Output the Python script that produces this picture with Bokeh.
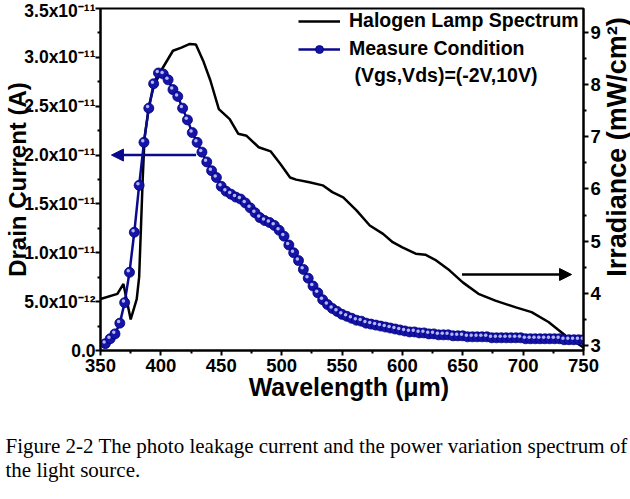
import math
from bokeh.plotting import figure
from bokeh.layouts import row, column
from bokeh.models import (Range1d, LinearAxis, Label, Legend, LegendItem, Arrow,
                          NormalHead, FixedTicker, CustomJSTickFormatter, ColumnDataSource)
from bokeh.embed import file_html
from bokeh.resources import INLINE

# ---- data -------------------------------------------------------------
# Photo leakage (drain) current, units of 1e-11 A, measured every 4 nm
current_wl = list(range(354, 751, 4))
current_e11 = [
    0.07, 0.12, 0.17, 0.28, 0.49, 0.80, 1.21, 1.69, 2.13, 2.48,   # 354-390
    2.73, 2.84, 2.83, 2.77, 2.67, 2.60, 2.48, 2.36, 2.23, 2.13,   # 394-430
    2.03, 1.93, 1.84, 1.77, 1.68, 1.63, 1.60, 1.57, 1.55, 1.51,   # 434-470
    1.46, 1.41, 1.36, 1.33, 1.31, 1.28, 1.23, 1.17, 1.08, 1.00,   # 474-510
    0.92, 0.83, 0.74, 0.66, 0.59, 0.52, 0.47, 0.43, 0.40, 0.37,   # 514-550
    0.35, 0.33, 0.31, 0.30, 0.28, 0.27, 0.26, 0.25, 0.24, 0.23,   # 554-590
    0.22, 0.21, 0.20, 0.19, 0.19, 0.18, 0.18, 0.17, 0.17, 0.16,   # 594-630
    0.16, 0.16, 0.15, 0.15, 0.15, 0.14, 0.14, 0.14, 0.14, 0.14,   # 634-670
    0.13, 0.13, 0.13, 0.13, 0.13, 0.13, 0.13, 0.12, 0.12, 0.12,   # 674-710
    0.12, 0.12, 0.12, 0.12, 0.12, 0.11, 0.11, 0.11, 0.11, 0.11,   # 714-750
]
current_a = [v * 1e-11 for v in current_e11]

# Halogen lamp irradiance, mW/cm^2
lamp_wl = [350, 364, 369, 375, 380, 382, 383.5, 385, 386.5, 390, 394, 401,
           410, 417, 424, 429, 435, 441, 448, 457, 464, 471, 481, 491, 499,
           507, 512, 523, 534, 542, 551, 562, 573, 584, 592, 600, 611, 619,
           628, 639, 650, 663, 677, 694, 707, 721, 735, 750]
lamp_irr = [3.89, 3.99, 4.18, 3.50, 3.89, 4.31, 5.26, 6.22, 6.99, 7.57, 7.96, 8.30,
            8.65, 8.71, 8.78, 8.77, 8.46, 8.08, 7.53, 7.34, 7.06, 7.02, 6.80, 6.72, 6.48,
            6.22, 6.18, 6.13, 6.07, 5.94, 5.84, 5.59, 5.30, 5.14, 4.98, 4.88, 4.76, 4.74,
            4.63, 4.44, 4.21, 3.99, 3.86, 3.73, 3.64, 3.45, 3.19, 2.96]

x_ticks = [350, 400, 450, 500, 550, 600, 650, 700, 750]
left_ticks = [0.0, 0.5e-11, 1.0e-11, 1.5e-11, 2.0e-11, 2.5e-11, 3.0e-11, 3.5e-11]
left_tick_labels = ["0.0", "5.0x10\u207b\u00b9\u00b2", "1.0x10\u207b\u00b9\u00b9",
                    "1.5x10\u207b\u00b9\u00b9", "2.0x10\u207b\u00b9\u00b9",
                    "2.5x10\u207b\u00b9\u00b9", "3.0x10\u207b\u00b9\u00b9",
                    "3.5x10\u207b\u00b9\u00b9"]
right_ticks = [3, 4, 5, 6, 7, 8, 9]

caption_lines = ["Figure 2-2 The photo leakage current and the power variation spectrum of",
                 "the light source."]

# ---- layout -----------------------------------------------------------
W, H = 630, 499
PLOT_W, PLOT_H = 603, 410          # chart canvas; right title strip and caption follow
LEFT, RIGHT, TOP, BOTTOM = 100, 18, 8, 60
X0, X1 = 350, 750
Y0, Y1 = 0.0, 3.5e-11
R0, R1 = 2.904, 9.46
FW, FH = PLOT_W - LEFT - RIGHT, PLOT_H - TOP - BOTTOM

def xd(px):
    """data x for a canvas column"""
    return X0 + (px - LEFT) / FW * (X1 - X0)

def yd(py):
    """data y (left axis) for a canvas row"""
    return Y1 - (py - TOP) / FH * (Y1 - Y0)

def rd(py):
    """data y (right axis) for a canvas row"""
    return R1 - (py - TOP) / FH * (R1 - R0)

FONT = "Liberation Sans"
BLUE = "#1414a8"
DARK_BLUE = "#0a0a8c"

p = figure(width=PLOT_W, height=PLOT_H, x_range=Range1d(X0, X1), y_range=Range1d(Y0, Y1),
           output_backend="svg", toolbar_location=None,
           min_border_left=LEFT, min_border_right=RIGHT,
           min_border_top=TOP, min_border_bottom=BOTTOM)
p.extra_y_ranges = {"irr": Range1d(R0, R1)}
p.grid.visible = False
p.outline_line_color = "black"
p.outline_line_width = 2
p.outline_line_alpha = 1
p.background_fill_color = "white"
p.border_fill_color = "white"

def style_axis(ax, label_size="18.5px"):
    ax.axis_line_width = 2
    ax.axis_line_color = "black"
    ax.major_tick_line_width = 2
    ax.major_tick_in = 0
    ax.major_tick_out = 5
    ax.minor_tick_line_width = 2
    ax.minor_tick_in = 0
    ax.minor_tick_out = 3
    ax.major_label_text_font = FONT
    ax.major_label_text_font_style = "bold"
    ax.major_label_text_font_size = label_size
    ax.major_label_text_color = "black"
    ax.major_label_standoff = 3
    ax.axis_label_text_font = FONT
    ax.axis_label_text_font_style = "bold"
    ax.axis_label_text_color = "black"

# bottom axis
xa = p.xaxis[0]
style_axis(xa)
xa.ticker = FixedTicker(ticks=x_ticks, minor_ticks=[t + 25 for t in x_ticks[:-1]])
xa.axis_label = "\u00a0\u00a0Wavelength (\u03bcm)"
xa.axis_label_text_font_size = "25px"
xa.axis_label_standoff = -2

# left axis
ya = p.yaxis[0]
style_axis(ya, "17.5px")
ya.ticker = FixedTicker(ticks=left_ticks,
                        minor_ticks=[t + 0.25e-11 for t in left_ticks[:-1]])
ya.formatter = CustomJSTickFormatter(
    args=dict(tvals=left_ticks, tlabels=left_tick_labels),
    code="""
const i = tvals.findIndex((t) => Math.abs(t - tick) < 1e-16);
return i >= 0 ? tlabels[i] : '';
""")
ya.major_label_standoff = 0
ya.axis_label = "Drain Current (A)"
ya.axis_label_text_font_size = "24px"
ya.axis_label_standoff = -10

# right axis (its title sits in the strip to the right)
ra = LinearAxis(y_range_name="irr")
style_axis(ra)
ra.ticker = FixedTicker(ticks=right_ticks, minor_ticks=[t + 0.5 for t in right_ticks[:-1]])
ra.major_label_standoff = 2
p.add_layout(ra, "right")

# ---- series -----------------------------------------------------------
lamp_src = ColumnDataSource(dict(x=lamp_wl, y=lamp_irr))
lamp_line = p.line("x", "y", source=lamp_src, y_range_name="irr",
                   line_color="black", line_width=2.5)

cur_src = ColumnDataSource(dict(
    x=current_wl, y=current_a,
    hx=[w - 1.0 for w in current_wl],
    hy=[v + 0.016e-11 for v in current_a]))
cur_line = p.line("x", "y", source=cur_src, line_color=DARK_BLUE, line_width=2.5)
cur_pts = p.scatter("x", "y", source=cur_src, size=10, marker="circle",
                    fill_color=BLUE, line_color="#000078", line_width=0.8)
# sphere highlight
p.scatter("hx", "hy", source=cur_src, size=3.5, marker="circle",
          fill_color="#c8c8ff", line_color=None, fill_alpha=0.9)

# ---- arrows -----------------------------------------------------------
p.add_layout(Arrow(end=NormalHead(size=12, fill_color=DARK_BLUE, line_color=DARK_BLUE),
                   x_start=xd(196), y_start=2.0e-11, x_end=xd(111), y_end=2.0e-11,
                   line_color=DARK_BLUE, line_width=2.5))
p.add_layout(Arrow(end=NormalHead(size=12, fill_color="black", line_color="black"),
                   x_start=xd(463), y_start=rd(274), x_end=xd(573), y_end=rd(274),
                   y_range_name="irr", line_color="black", line_width=2.5))

# ---- legend -----------------------------------------------------------
legend = Legend(items=[LegendItem(label="Halogen Lamp Spectrum", renderers=[lamp_line]),
                       LegendItem(label="Measure Condition", renderers=[cur_line, cur_pts])],
                location=(198, 290), glyph_width=42, glyph_height=20, label_height=20,
                spacing=5, padding=0, margin=0, border_line_color=None,
                background_fill_alpha=0, label_standoff=9,
                label_text_font=FONT, label_text_font_style="bold",
                label_text_font_size="19.5px", label_text_color="black")
p.add_layout(legend)

p.add_layout(Label(x=xd(355), y=yd(74), text="(Vgs,Vds)=(-2V,10V)",
                   text_font=FONT, text_font_style="bold", text_color="black",
                   text_font_size="19.5px", text_align="left", text_baseline="middle"))

# ---- right-hand title strip ------------------------------------------
def blank(width, height):
    f = figure(width=width, height=height, x_range=Range1d(0, width),
               y_range=Range1d(0, height), output_backend="svg", toolbar_location=None,
               x_axis_type=None, y_axis_type=None, min_border=0)
    f.grid.visible = False
    f.outline_line_color = None
    f.background_fill_color = "white"
    f.border_fill_color = "white"
    return f

strip = blank(W - PLOT_W, PLOT_H)
strip.add_layout(Label(x=13, y=PLOT_H - 166, text="Irradiance (mW/cm\u00b2)",
                       angle=math.pi / 2, text_font=FONT, text_font_style="bold",
                       text_font_size="27px", text_color="black",
                       text_align="center", text_baseline="middle"))

# ---- caption ----------------------------------------------------------
cap = blank(W, H - PLOT_H)
for base_row, line in zip([445, 469], caption_lines):
    cap.add_layout(Label(x=5, y=H - base_row, text=line, text_font="Liberation Serif",
                         text_font_size="21px", text_color="black",
                         text_align="left", text_baseline="alphabetic"))

layout = column(row(p, strip, spacing=0), cap, spacing=0)
open("out.html", "w").write(file_html(layout, INLINE))
